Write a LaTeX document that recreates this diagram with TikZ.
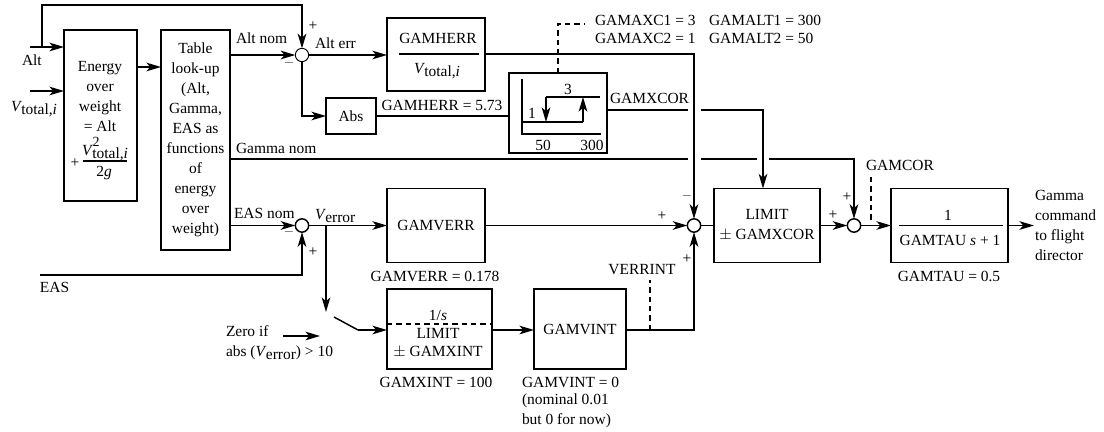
\documentclass[tikz,border=0pt]{standalone}
\usepackage{fontspec}
\setmainfont{Liberation Serif}
\usetikzlibrary{arrows.meta}
\newcommand{\VV}[1]{\textit{V}\kern-0.5pt\raisebox{-0.35ex}{#1}}
\newcommand{\VVsq}{\textit{V}\kern-0.5pt\raisebox{-0.5ex}{total,\textit{i}}}
\tikzset{
  x=0.75pt,y=-0.75pt,
  every node/.style={font=\fontsize{11.6}{15}\selectfont,inner sep=0pt,outer sep=0pt},
  wire/.style={line width=1.1pt,black},
  sig/.style={wire,-{Stealth[length=11pt,width=6.5pt,inset=3pt]}},
  dashwire/.style={line width=1.1pt,black,dash pattern=on 4pt off 3pt},
  blk/.style={draw,line width=1.1pt,align=center},
  sumj/.style={circle,draw,fill=white,line width=1.1pt,minimum size=10pt},
  lab/.style={anchor=west},
  cen/.style={anchor=center,align=center},
  rule/.style={line width=0.9pt}
}
\newcommand{\blkn}[6]{\node[blk,minimum width={(#4-#2)*0.75pt},minimum height={(#5-#3)*0.75pt}] (#1) at ({(#2+#4)/2},{(#3+#5)/2}) {#6};}
\begin{document}
\begin{tikzpicture}
\useasboundingbox (0,0) rectangle (1104,432);
% blocks
\blkn{energy}{64}{30}{137}{201}{}
\blkn{table}{161}{30}{230}{250}{\fontsize{11.6}{20.4}\selectfont Table\\look-up\\(Alt,\\Gamma,\\EAS as\\functions\\of\\energy\\over\\weight)}
\blkn{gamherr}{387}{18}{485}{91}{}
\blkn{abs}{326}{98}{376}{134}{Abs}
\blkn{hyst}{509}{73}{607}{153}{}
\blkn{gamverr}{387}{188.5}{485}{262.5}{GAMVERR}
\blkn{gamxint}{387}{289}{492}{369}{}
\blkn{gamvint}{534}{289}{626}{369}{GAMVINT}
\blkn{limit}{714}{188.5}{820}{262.5}{\fontsize{11.6}{19}\selectfont LIMIT\\$\pm$ GAMXCOR}
\blkn{gamtau}{891}{188.5}{1008}{262.5}{}
% summing junctions
\node[sumj,line width=0.7pt] (s1) at (302,55) {};
\node[sumj] (s2) at (302,225.5) {};
\node[sumj] (s3) at (694,225.5) {};
\node[sumj] (s4) at (854,225.5) {};
% free ends
\coordinate (altin) at (30,47);
\coordinate (altup) at (42,47);
\coordinate (vin) at (30,91);
\coordinate (easin) at (40,275);
\coordinate (down) at (326,225.5);
\coordinate (swa) at (326,312);
\coordinate (swb) at (334,317);
\coordinate (swc) at (358,330);
\coordinate (cmd) at (1034,225.5);
\coordinate (zeroa) at (283,336);
\coordinate (zerob) at (320,336);
% left part
\draw[sig] (altin) -- (energy.west |- altin);
\draw[sig] (altup) |- (302,5) -- (s1.north);
\draw[sig] (vin) -- (energy.west |- vin);
\draw[sig] (energy.east |- 0,67) -- (table.west |- 0,67);
\draw[sig] (table.east |- s1) -- (s1.west);
\draw[sig] (s1.south) |- (abs.west);
\draw[sig] (s1.east) -- (gamherr.west |- s1);
\draw[wire] (abs.east) -- (hyst.west |- abs);
\draw[sig] (gamherr.east |- 0,54) -| (s3.north);
% GAMXCOR with crossing gaps
\draw[wire] (hyst.east |- 0,110) -- (688,110);
\draw[sig] (701,110) -- (763,110) -- (limit.north -| 763,0);
% Gamma nom with crossing gaps
\draw[wire] (table.east |- 0,159) -- (688,159);
\draw[wire] (701,159) -- (757,159);
\draw[sig] (769,159) -| (s4.north);
% EAS row
\draw[sig] (table.east |- s2) -- (s2.west);
\draw[sig] (easin) -| (s2.south);
\draw[sig] (s2.east) -- (gamverr.west);
\draw[sig] (down) -- (swa);
\draw[wire] (swb) -- (swc);
\draw[sig] (swc) -- (gamxint.west |- swc);
\draw[sig] (zeroa) -- (zerob);
\draw[sig] (gamverr.east) -- (s3.west);
\draw[sig] (gamxint.east |- swc) -- (gamvint.west |- swc);
\draw[sig] (gamvint.east |- swc) -| (s3.south);
\draw[wire] (s3.east) -- (limit.west |- s3);
\draw[sig] (limit.east |- s4) -- (s4.west);
\draw[sig] (s4.east) -- (gamtau.west |- s4);
\draw[sig] (gamtau.east |- cmd) -- (cmd);
% dashed
\coordinate (dashtop) at (585,24);
\draw[dashwire] (hyst.north -| 558,0) |- (dashtop);
\draw[dashwire] (871,177) -- (871,222);
\draw[dashwire] (650,330) -- (650,280);
\draw[dashwire] (gamxint.west |- 0,324) -- (gamxint.east |- 0,324);
% hysteresis graph
\draw[wire] (522,79) -- (522,134) -- (601,134);
\draw[sig] (583,122) -- (583,97);
\draw[wire] (522,122) -- (583,122);
\draw[wire] (546,97) -- (600,97);
\draw[sig] (546,97) -- (546,122);
% fraction rules
\draw[rule] (399,54) -- (479,54);
\draw[rule] (83,161) -- (127,161);
\draw[rule] (899,225.5) -- (1003,225.5);
% text
\node[lab] (t1) at (22,60) {Alt};
\node[cen] (t2) at (34,109) {\VV{total,\textit{i}}};
\node[cen] (t3) at (100,96.5) {\fontsize{11.6}{21}\selectfont Energy\\over\\weight\\= Alt};
\node[cen] (t4) at (105,153) {\VVsq};
\node[cen,font=\fontsize{10.5}{12}\selectfont] (t4b) at (96,142) {2};
\node[cen] (t5) at (75,163) {+};
\node[cen] (t6) at (104,173) {2\textit{g}};
\node[lab] (t7) at (236,38) {Alt nom};
\node[lab] (t8) at (315,43) {Alt err};
\node[cen] (t9) at (313,26) {+};
\node[cen,text=black!60] (t10) at (289,65) {–};
\node[lab] (t11) at (236,148) {Gamma nom};
\node[lab] (t12) at (234,213) {EAS nom};
\node[lab] (t13) at (315,216) {\VV{error}};
\node[cen,text=black!60] (t14) at (289,234) {–};
\node[cen] (t15) at (313,252) {+};
\node[lab] (t16) at (40,287) {EAS};
\node[cen] (t17) at (438,38) {GAMHERR};
\node[cen] (t18) at (437,71) {\VV{total,\textit{i}}};
\node[cen] (t19) at (442,105) {GAMHERR = 5.73};
\node[lab] (t20) at (595,20) {GAMAXC1 = 3};
\node[lab] (t21) at (595,38) {GAMAXC2 = 1};
\node[lab] (t22) at (709,20) {GAMALT1 = 300};
\node[lab] (t23) at (709,38) {GAMALT2 = 50};
\node[cen] (t24) at (568,89) {3};
\node[cen] (t25) at (532,113) {1};
\node[cen] (t26) at (543,145) {50};
\node[cen] (t27) at (592,145) {300};
\node[lab] (t28) at (610,98) {GAMXCOR};
\node[cen] (t29) at (435,276) {GAMVERR = 0.178};
\node[cen] (t30) at (438,315) {1/\textit{s}};
\node[cen] (t31) at (438,333) {LIMIT};
\node[cen] (t32) at (438,352) {$\pm$ GAMXINT};
\node[cen] (t33) at (436,382) {GAMXINT = 100};
\node[lab] (t34) at (522,382) {GAMVINT = 0};
\node[lab,align=left] (t35) at (522,411) {\fontsize{11.6}{18}\selectfont (nominal 0.01\\but 0 for now)};
\node[lab,align=left] (t36) at (226,343) {\fontsize{11.6}{17}\selectfont Zero if\\abs (\VV{error}) > 10};
\node[cen] (t37) at (642,270) {VERRINT};
\node[cen] (t38) at (662,216) {+};
\node[cen,text=black!60] (t39) at (687,198) {–};
\node[cen] (t40) at (687,259) {+};
\node[cen] (t41) at (900,165) {GAMCOR};
\node[cen] (t42) at (847,197) {+};
\node[cen] (t43) at (833,215) {+};
\node[cen] (t44) at (948,215) {1};
\node[cen] (t45) at (950,240) {GAMTAU \textit{s} + 1};
\node[cen] (t47) at (949,276) {GAMTAU = 0.5};
\node[lab,align=left] (t48) at (1035,225) {\fontsize{11.6}{16.3}\selectfont Gamma\\command\\to flight\\director};
\end{tikzpicture}
\end{document}
